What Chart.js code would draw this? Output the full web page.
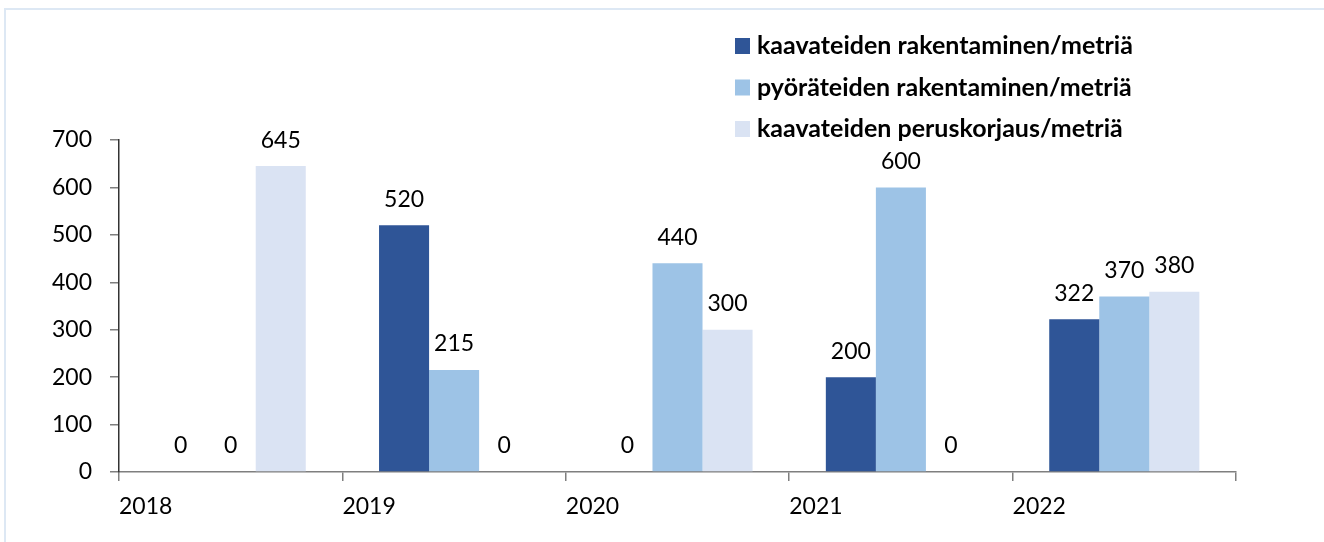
<!DOCTYPE html>
<html>
<head>
<meta charset="utf-8">
<script src="https://cdn.jsdelivr.net/npm/chart.js@4.4.1/dist/chart.umd.min.js"></script>
<style>
  html, body { margin: 0; padding: 0; background: #fff; }
  body { width: 1324px; height: 542px; overflow: hidden; position: relative; }
  .frame {
    position: absolute; left: 4px; top: 8px; width: 1330px; height: 550px;
    border-left: 2px solid #dde8f4; border-top: 2px solid #dde8f4;
  }
  #roadChart { position: absolute; left: 0; top: 0; }
</style>
</head>
<body>
<div class="frame"></div>
<canvas id="roadChart" width="1324" height="542"></canvas>
<script>
const years = ["2018", "2019", "2020", "2021", "2022"];
const seriesNames = [
  "kaavateiden rakentaminen/metriä",
  "pyöräteiden rakentaminen/metriä",
  "kaavateiden peruskorjaus/metriä"
];
const streetBuild = [0, 520, 0, 200, 322];
const cycleBuild = [0, 215, 440, 600, 370];
const streetRenovation = [645, 0, 300, 0, 380];
const colors = ["#2f5597", "#9dc3e6", "#dae3f3"];

const FONT = "Lato, 'Open Sans', sans-serif";

// values above bars
const valueLabels = {
  id: "valueLabels",
  afterDatasetsDraw(chart) {
    const ctx = chart.ctx;
    ctx.save();
    ctx.font = "23px " + FONT;
    ctx.fillStyle = "#000";
    ctx.textAlign = "center";
    ctx.textBaseline = "middle";
    chart.data.datasets.forEach((ds, di) => {
      chart.getDatasetMeta(di).data.forEach((bar, i) => {
        ctx.fillText(String(ds.data[i]), bar.x, bar.y - 26);
      });
    });
    ctx.restore();
  }
};

// year labels start at the category edge
const yearLabels = {
  id: "yearLabels",
  afterDraw(chart) {
    const ctx = chart.ctx;
    const x = chart.scales.x;
    ctx.save();
    ctx.font = "23px " + FONT;
    ctx.fillStyle = "#000";
    ctx.textAlign = "left";
    ctx.textBaseline = "middle";
    chart.data.labels.forEach((lab, i) => {
      ctx.fillText(lab, x.getPixelForValue(i - 0.5), 507);
    });
    ctx.restore();
  }
};

// vertical legend in the top right
const sideLegend = {
  id: "sideLegend",
  afterDraw(chart) {
    const ctx = chart.ctx;
    ctx.save();
    ctx.font = "bold 25px " + FONT;
    ctx.textBaseline = "middle";
    ctx.textAlign = "left";
    chart.data.datasets.forEach((ds, i) => {
      const y = 46 + i * 41.5;
      ctx.fillStyle = ds.backgroundColor;
      ctx.fillRect(735, y - 8, 15, 16);
      ctx.fillStyle = "#000";
      ctx.fillText(ds.label, 757, y);
    });
    ctx.restore();
  }
};

const ctx = document.getElementById("roadChart").getContext("2d");

new Chart(ctx, {
  type: "bar",
  data: {
    labels: years,
    datasets: [
      { label: seriesNames[0], data: streetBuild, backgroundColor: colors[0] },
      { label: seriesNames[1], data: cycleBuild, backgroundColor: colors[1] },
      { label: seriesNames[2], data: streetRenovation, backgroundColor: colors[2] }
    ]
  },
  options: {
    responsive: false,
    animation: false,
    devicePixelRatio: 1,
    layout: { padding: { left: 0, right: 88, top: 140, bottom: 0 } },
    datasets: {
      bar: { categoryPercentage: 0.672, barPercentage: 1.0, borderWidth: 0 }
    },
    scales: {
      x: {
        afterFit: (s) => { s.height = 70; },
        border: { display: true, color: "#7f7f7f", width: 1.5 },
        grid: {
          display: true,
          offset: true,
          drawOnChartArea: false,
          drawTicks: true,
          tickLength: 9,
          color: "#7f7f7f",
          lineWidth: 1.5
        },
        ticks: { color: "rgba(0,0,0,0)", autoSkip: false, maxRotation: 0, font: { size: 23, family: FONT } }
      },
      y: {
        min: 0,
        max: 700,
        afterFit: (s) => { s.width = 119; },
        border: { display: true, color: "#333", width: 1.5 },
        grid: {
          display: true,
          drawOnChartArea: false,
          drawTicks: true,
          tickLength: 9,
          color: "#7f7f7f",
          lineWidth: 1.5
        },
        ticks: {
          stepSize: 100,
          padding: 18,
          color: "#000",
          font: { size: 23, family: FONT }
        }
      }
    },
    plugins: {
      legend: { display: false },
      tooltip: { enabled: false }
    }
  },
  plugins: [valueLabels, yearLabels, sideLegend]
});
</script>
</body>
</html>
